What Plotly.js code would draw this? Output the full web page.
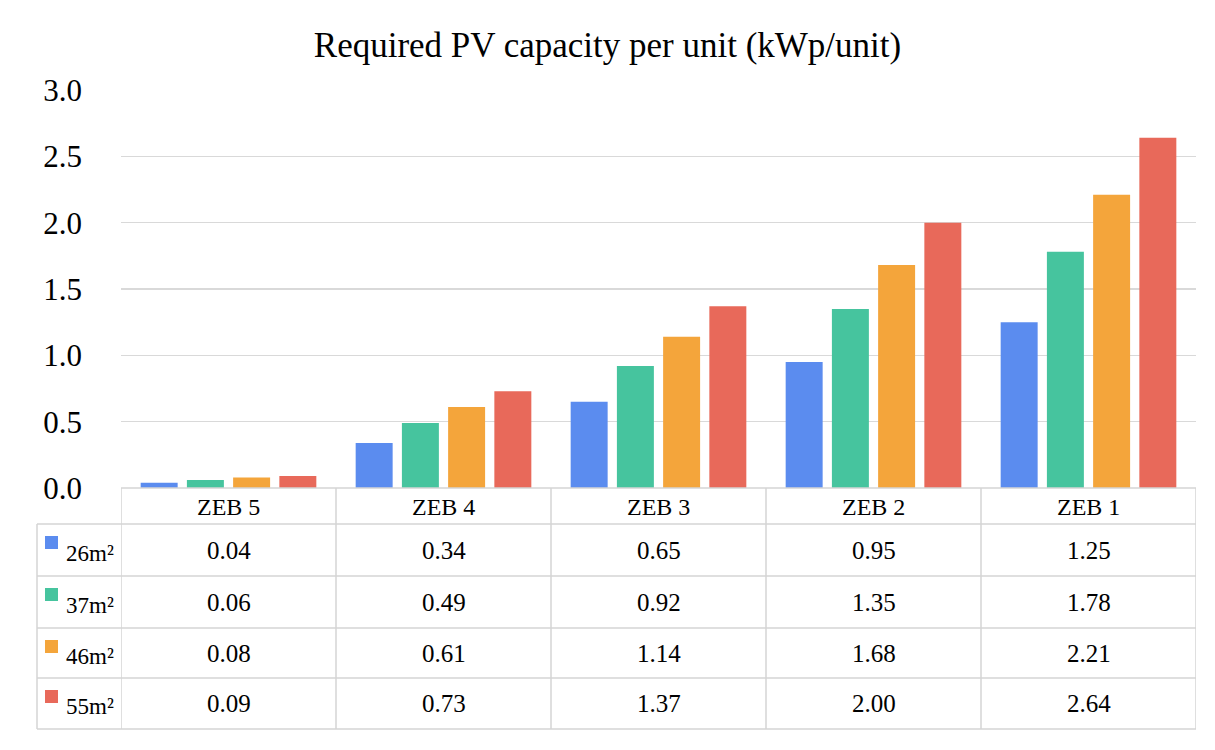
<!DOCTYPE html>
<html>
<head>
<meta charset="utf-8">
<script src="https://cdn.plot.ly/plotly-3.0.1.min.js"></script>
<style>html,body{margin:0;padding:0;background:#fff;}#chart{width:1215px;height:750px;}</style>
</head>
<body>
<div id="chart"></div>
<script>
const categories = ['ZEB 5', 'ZEB 4', 'ZEB 3', 'ZEB 2', 'ZEB 1'];
const seriesNames = ['26m²', '37m²', '46m²', '55m²'];
const s26 = [0.04, 0.34, 0.65, 0.95, 1.25];
const s37 = [0.06, 0.49, 0.92, 1.35, 1.78];
const s46 = [0.08, 0.61, 1.14, 1.68, 2.21];
const s55 = [0.09, 0.73, 1.37, 2.00, 2.64];
const colors = ['#5B8CEF', '#46C49E', '#F4A53B', '#E8695A'];
const yTicks = [0, 0.5, 1.0, 1.5, 2.0, 2.5, 3.0];

const series = [s26, s37, s46, s55];
const W = 1215, H = 750;
const L = 121, R = 1196, T = 90, B = 488;
const py = p => (B - p) / (B - T);
const px = p => (p - L) / (R - L);
const FONT = 'Liberation Serif';
const lineCol = '#d4d4d4';

const traces = series.map((vals, i) => ({
  type: 'bar', x: categories, y: vals, name: seriesNames[i],
  marker: {color: colors[i]}, hoverinfo: 'x+y+name'
}));

const rowEdges = [488, 524, 576, 628, 678, 729];
const leftEdge = 37;
const shapes = [];
const annotations = [];

rowEdges.forEach((r, k) => {
  shapes.push({type: 'line', xref: 'paper', yref: 'paper',
    x0: k === 0 ? 0 : px(leftEdge), x1: 1, y0: py(r), y1: py(r),
    line: {color: lineCol, width: 1.5}});
});
for (let c = 0; c <= categories.length; c++) {
  shapes.push({type: 'line', xref: 'x', yref: 'paper',
    x0: c - 0.5, x1: c - 0.5, y0: py(rowEdges[0]), y1: py(rowEdges[5]),
    line: {color: lineCol, width: 1.5}});
}
shapes.push({type: 'line', xref: 'paper', yref: 'paper',
  x0: px(leftEdge), x1: px(leftEdge), y0: py(rowEdges[1]), y1: py(rowEdges[5]),
  line: {color: lineCol, width: 1.5}});

categories.forEach((c, j) => {
  annotations.push({xref: 'x', yref: 'paper', x: j, y: py((rowEdges[0] + rowEdges[1]) / 2 + 1),
    text: c, showarrow: false, font: {family: FONT, size: 24, color: '#000'},
    xanchor: 'center', yanchor: 'middle'});
});

series.forEach((vals, i) => {
  const top = rowEdges[i + 1], bot = rowEdges[i + 2];
  const mid = (top + bot) / 2;
  shapes.push({type: 'rect', xref: 'paper', yref: 'paper',
    x0: px(45), x1: px(58), y0: py(top + 12), y1: py(top + 25),
    fillcolor: colors[i], line: {width: 0}});
  annotations.push({xref: 'paper', yref: 'paper', x: px(64), y: py(mid + 3),
    text: seriesNames[i], showarrow: false, font: {family: FONT, size: 23, color: '#000'},
    xanchor: 'left', yanchor: 'middle'});
  vals.forEach((v, j) => {
    annotations.push({xref: 'x', yref: 'paper', x: j, y: py(mid),
      text: v.toFixed(2), showarrow: false, font: {family: FONT, size: 25, color: '#000'},
      xanchor: 'center', yanchor: 'middle'});
  });
});

const layout = {
  width: W, height: H,
  margin: {l: L, r: W - R, t: T, b: H - B, pad: 0},
  paper_bgcolor: '#fff', plot_bgcolor: '#fff',
  font: {family: FONT, color: '#000'},
  title: {text: 'Required PV capacity per unit (kWp/unit)', x: 0.5, xanchor: 'center',
    y: 1 - 45 / H, yanchor: 'middle', font: {family: FONT, size: 35, color: '#000'}},
  showlegend: false,
  barmode: 'group', bargap: 0.14, bargroupgap: 0.2,
  xaxis: {type: 'category', range: [-0.5, 4.5], showticklabels: false, showgrid: false,
    zeroline: false, showline: false, ticks: '', fixedrange: true},
  yaxis: {range: [0, 3], tickvals: yTicks, ticktext: yTicks.map(v => v.toFixed(1)),
    showgrid: true, gridcolor: '#d9d9d9', gridwidth: 1.5, zeroline: false, showline: false,
    ticks: '', ticklabelstandoff: 38, tickfont: {family: FONT, size: 31, color: '#000'},
    fixedrange: true},
  shapes: shapes, annotations: annotations
};

Plotly.newPlot('chart', traces, layout, {displayModeBar: false, staticPlot: true});
</script>
</body>
</html>
